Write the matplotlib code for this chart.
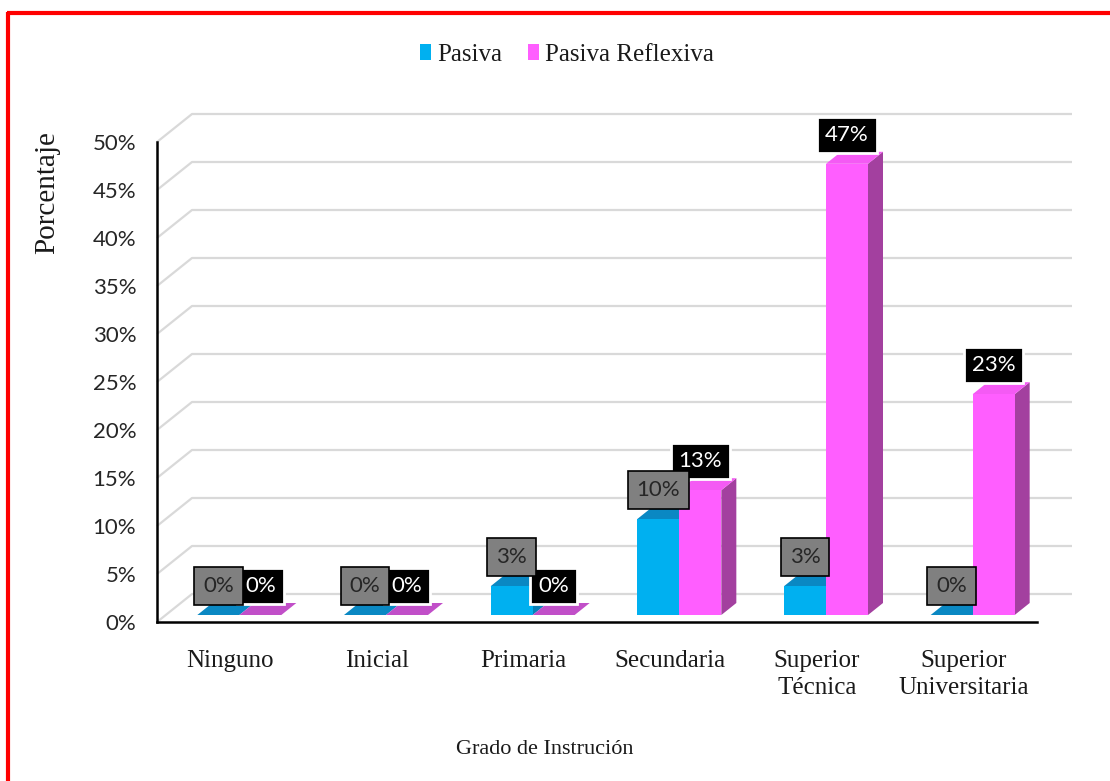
import matplotlib
matplotlib.use("Agg")
import matplotlib.pyplot as plt
from matplotlib.patches import Polygon, Patch
from matplotlib.lines import Line2D

categories = ["Ninguno", "Inicial", "Primaria", "Secundaria", "Superior\nTécnica", "Superior\nUniversitaria"]
pasiva = [0, 0, 3, 10, 3, 0]
pasiva_reflexiva = [0, 0, 0, 13, 47, 23]
series_names = ["Pasiva", "Pasiva Reflexiva"]
yticks = list(range(0, 55, 5))

W, H = 1110, 781
fig = plt.figure(figsize=(W / 100, H / 100), dpi=100)
fig.patch.set_facecolor("white")

# axes placement in pixels
ax_l, ax_r, ax_b, ax_t = 157, 1037, 622, 142
ax = fig.add_axes([ax_l / W, 1 - ax_b / H, (ax_r - ax_l) / W, (ax_b - ax_t) / H])
ax.set_xlim(-0.5, 5.5)
ax.set_ylim(0, 50)
pxx = 6.0 / (ax_r - ax_l)   # data units per pixel (x)
pxy = 50.0 / (ax_b - ax_t)  # data units per pixel (y)

serif = "Liberation Serif"
sans = "Lato"

# back-wall gridlines
wdx, wdy = 35 * pxx, 28 * pxy
for v in yticks:
    ax.plot([-0.5, -0.5 + wdx, 5.5 + wdx], [v, v + wdy, v + wdy], color="#D9D9D9",
            lw=1.6, zorder=1, clip_on=False, solid_capstyle="butt")

# bars
sx, sy = 9 * pxx, 7 * pxy
ddx, ddy = 15 * pxx, 12 * pxy
bw = 42 * pxx

styles = [
    dict(front="#00B0F0", top="#0A88C3", topzero="#0A88C3", side="#0780B8"),
    dict(front="#FF5EFF", top="#F45AF4", topzero="#C14FC8", side="#A3409F"),
]

def draw_bar(x0, v, st, z):
    fx = x0 + sx
    side = [(fx + bw, sy), (fx + bw + ddx, sy + ddy), (fx + bw + ddx, sy + v + ddy), (fx + bw, sy + v)]
    top = [(fx, sy + v), (fx + bw, sy + v), (fx + bw + ddx, sy + v + ddy), (fx + ddx, sy + v + ddy)]
    front = [(fx, sy), (fx + bw, sy), (fx + bw, sy + v), (fx, sy + v)]
    ax.add_patch(Polygon(side, closed=True, facecolor=st["side"], edgecolor="none", zorder=z, clip_on=False))
    ax.add_patch(Polygon(top, closed=True, facecolor=st["top"] if v > 0 else st["topzero"],
                         edgecolor="none", zorder=z, clip_on=False))
    if v > 0:
        ax.add_patch(Polygon(front, closed=True, facecolor=st["front"], edgecolor="none", zorder=z, clip_on=False))

for i in range(len(categories)):
    draw_bar(i - bw, pasiva[i], styles[0], 3)
    draw_bar(i, pasiva_reflexiva[i], styles[1], 4)

# data labels
lab_off = 29 * pxy
for i in range(len(categories)):
    # pink labels (below grey ones)
    v = pasiva_reflexiva[i]
    ax.text(i + sx + bw / 2, sy + v + lab_off, f"{v}%", ha="center", va="center",
            fontsize=16, family=sans, color="white", zorder=10, clip_on=False,
            bbox=dict(boxstyle="square,pad=0.36", facecolor="black", edgecolor="white", lw=2))
    v = pasiva[i]
    ax.text(i - bw + sx + bw / 2, sy + v + lab_off, f"{v}%", ha="center", va="center",
            fontsize=16, family=sans, color="#262626", zorder=11, clip_on=False,
            bbox=dict(boxstyle="square,pad=0.4", facecolor="#808080", edgecolor="black", lw=1.2))

# axes styling
for s in ["top", "right"]:
    ax.spines[s].set_visible(False)
ax.spines["left"].set_color("black")
ax.spines["left"].set_linewidth(1.8)
ax.spines["bottom"].set_color("black")
ax.spines["bottom"].set_linewidth(1.8)
ax.spines["left"].set_zorder(6)
ax.spines["bottom"].set_zorder(6)
ax.set_facecolor("none")

ax.set_yticks(yticks)
ax.set_yticklabels([f"{v}%" for v in yticks], family=sans, fontsize=16, color="#262626")
ax.tick_params(axis="y", length=0, pad=15)
ax.set_xticks(range(len(categories)))
ax.set_xticklabels(categories, family=serif, fontsize=18, color="#1a1a1a", linespacing=1.3)
ax.tick_params(axis="x", length=0, pad=20)

fig.text(47 / W, 1 - 193 / H, "Porcentaje", rotation=90, ha="center", va="center",
         family=serif, fontsize=21, color="#1a1a1a")
fig.text(545 / W, 1 - 750 / H, "Grado de Instrución", ha="center", va="center",
         family=serif, fontsize=16, color="#1a1a1a")

handles = [Patch(facecolor=styles[0]["front"], edgecolor="none"),
           Patch(facecolor=styles[1]["front"], edgecolor="none")]
leg = fig.legend(handles, series_names, loc="center", bbox_to_anchor=(567 / W, 1 - 55 / H),
                 ncol=2, frameon=False, prop=dict(family=serif, size=18),
                 handlelength=0.45, handleheight=0.6, handletextpad=0.25, columnspacing=1.0)
for t in leg.get_texts():
    t.set_color("#1a1a1a")

# red border
fig.add_artist(Line2D([7 / W, 1.0], [1 - 13 / H, 1 - 13 / H], transform=fig.transFigure,
                      color="red", lw=3, solid_capstyle="butt"))
fig.add_artist(Line2D([7.5 / W, 7.5 / W], [1 - 11.5 / H, 0.0], transform=fig.transFigure,
                      color="red", lw=3, solid_capstyle="butt"))

fig.savefig("out.png", dpi=100)
